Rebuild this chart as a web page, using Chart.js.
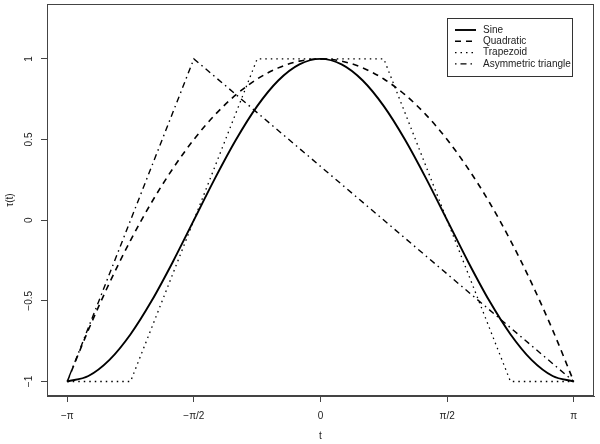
<!DOCTYPE html>
<html>
<head>
<meta charset="utf-8">
<script src="https://cdn.jsdelivr.net/npm/chart.js@4/dist/chart.umd.min.js"></script>
<style>
  html, body { margin: 0; padding: 0; background: #fff; }
  #wrap { width: 600px; height: 444px; }
</style>
</head>
<body>
<div id="wrap"><canvas id="myChart" width="600" height="444"></canvas></div>
<script>
// t is given in units of pi
var tGrid = [-1, -0.9167, -0.8333, -0.75, -0.6667, -0.5833, -0.5, -0.4167, -0.3333, -0.25, -0.1667, -0.0833, 0,
             0.0833, 0.1667, 0.25, 0.3333, 0.4167, 0.5, 0.5833, 0.6667, 0.75, 0.8333, 0.9167, 1]
var sine = [-1, -0.966, -0.866, -0.707, -0.5, -0.259, 0, 0.259, 0.5, 0.707, 0.866, 0.966, 1,
            0.966, 0.866, 0.707, 0.5, 0.259, 0, -0.259, -0.5, -0.707, -0.866, -0.966, -1]
var quadratic = [-1, -0.681, -0.389, -0.125, 0.111, 0.319, 0.5, 0.653, 0.778, 0.875, 0.944, 0.986, 1,
                 0.986, 0.944, 0.875, 0.778, 0.653, 0.5, 0.319, 0.111, -0.125, -0.389, -0.681, -1]
var trapT = [-1, -0.75, -0.25, 0.25, 0.75, 1]
var trapezoid = [-1, -1, 1, 1, -1, -1]
var triT = [-1, -0.5, 1]
var triangle = [-1, 1, -1]

var seriesNames = ["Sine", "Quadratic", "Trapezoid", "Asymmetric triangle"]
var xTicks = [-1, -0.5, 0, 0.5, 1]
var xTickLabels = ["\u2212\u03c0", "\u2212\u03c0/2", "0", "\u03c0/2", "\u03c0"]
var yTicks = [-1, -0.5, 0, 0.5, 1]
var yTickLabels = ["\u22121", "\u22120.5", "0", "0.5", "1"]

function pts(xs, ys) {
    var out = []
    for (var i = 0; i < xs.length; i++) out.push({x: xs[i], y: ys[i]})
    return out
}

var FONT = "Liberation Sans, Arial, Helvetica, sans-serif"
var INK = "#222"
var FRAME = "#444"

// box around the plot, rotated y labels, and the legend
var rPlot = {
    id: 'rPlot',
    afterDraw: function(chart) {
        var ctx = chart.ctx, a = chart.chartArea
        ctx.save()
        var L = Math.round(a.left), R = Math.round(a.right)
        var T = Math.round(a.top), B = Math.round(a.bottom)
        ctx.fillStyle = FRAME
        ctx.fillRect(L, T, R - L, 1)
        ctx.fillRect(R - 1, T, 1, B - T)
        ctx.fillRect(L, B - 1, R - L, 1)
        ctx.fillRect(L, T, 1, B - T)

        // y tick labels, read bottom to top like R
        var ys = chart.scales.y
        ctx.fillStyle = INK
        ctx.font = "10px " + FONT
        ctx.textAlign = "center"
        ctx.textBaseline = "middle"
        ys.ticks.forEach(function(tk, i) {
            var py = ys.getPixelForValue(tk.value)
            ctx.save()
            ctx.translate(29, py)
            ctx.rotate(-Math.PI / 2)
            ctx.fillText(yTickLabels[i], 0, 0)
            ctx.restore()
        })

        // legend, top right inside the plot
        var lx = a.right - 22, ly = a.top + 14
        var w = 125, h = 58
        ctx.fillStyle = "#fff"
        ctx.fillRect(lx - w, ly, w, h)
        ctx.strokeStyle = "#333"
        ctx.lineWidth = 1
        ctx.strokeRect(lx - w + 0.5, ly + 0.5, w, h)
        chart.data.datasets.forEach(function(ds, i) {
            var yy = ly + 12 + i * 11.3
            ctx.save()
            ctx.strokeStyle = ds.borderColor
            ctx.lineWidth = ds.borderWidth
            ctx.setLineDash(ds.borderDash || [])
            ctx.beginPath()
            ctx.moveTo(lx - w + 8, yy)
            ctx.lineTo(lx - w + 29, yy)
            ctx.stroke()
            ctx.restore()
            ctx.fillStyle = INK
            ctx.textAlign = "left"
            ctx.fillText(seriesNames[i], lx - w + 36, yy)
        })
        ctx.restore()
    }
}

var myChart = document.getElementById("myChart").getContext('2d')
var chart = new Chart(myChart, {
    type: 'scatter',
    data: {
        datasets: [
            {
                label: seriesNames[0],
                data: pts(tGrid, sine),
                showLine: true,
                borderColor: "#000",
                borderWidth: 1.9,
                pointRadius: 0,
                cubicInterpolationMode: 'monotone'
            },
            {
                label: seriesNames[1],
                data: pts(tGrid, quadratic),
                showLine: true,
                borderColor: "#000",
                borderWidth: 1.6,
                borderDash: [6, 5],
                pointRadius: 0,
                cubicInterpolationMode: 'monotone'
            },
            {
                label: seriesNames[2],
                data: pts(trapT, trapezoid),
                showLine: true,
                borderColor: "#000",
                borderWidth: 1.3,
                borderDash: [1.5, 4],
                pointRadius: 0
            },
            {
                label: seriesNames[3],
                data: pts(triT, triangle),
                showLine: true,
                borderColor: "#000",
                borderWidth: 1.4,
                borderDash: [1.5, 4, 6, 4],
                pointRadius: 0
            }
        ]
    },
    options: {
        responsive: false,
        animation: false,
        events: [],
        layout: { padding: { top: 4, right: 6, left: 0, bottom: 0 } },
        plugins: { legend: { display: false }, tooltip: { enabled: false } },
        scales: {
            x: {
                type: 'linear',
                min: -1.08,
                max: 1.08,
                afterBuildTicks: function(s) { s.ticks = xTicks.map(function(v) { return {value: v} }) },
                afterFit: function(s) { s.height = 48 },
                grid: { display: true, drawOnChartArea: false, drawTicks: true, tickLength: 6, color: FRAME },
                border: { display: true, color: FRAME },
                ticks: {
                    padding: 8,
                    color: INK,
                    font: { size: 10, family: FONT },
                    maxRotation: 0,
                    callback: function(v, i) { return xTickLabels[i] }
                },
                title: { display: true, text: "t", color: INK, font: { size: 10, family: FONT }, padding: { top: 0, bottom: 2 } }
            },
            y: {
                type: 'linear',
                min: -1.09,
                max: 1.34,
                afterBuildTicks: function(s) { s.ticks = yTicks.map(function(v) { return {value: v} }) },
                afterFit: function(s) { s.width = 47 },
                grid: { display: true, drawOnChartArea: false, drawTicks: true, tickLength: 6, color: FRAME },
                border: { display: true, color: FRAME },
                ticks: { display: false },
                title: { display: true, text: "\u03c4(t)", color: INK, font: { size: 10, family: FONT }, padding: { top: 4, bottom: 0 } }
            }
        }
    },
    plugins: [rPlot]
})
</script>
</body>
</html>
